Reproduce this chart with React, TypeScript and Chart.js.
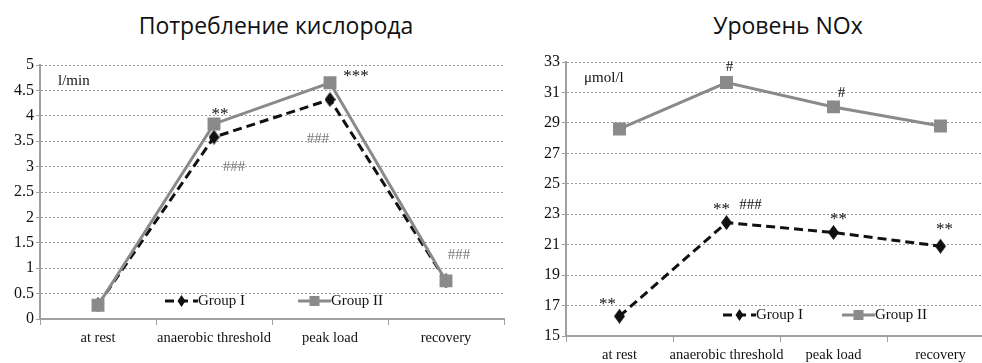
import React, { useEffect, useRef } from "react";
import { Chart, registerables } from "chart.js";

Chart.register(...registerables);

// ---------- data ----------
const categories = ["at rest", "anaerobic threshold", "peak load", "recovery"];

const o2Title = "Потребление кислорода";
const o2Unit = "l/min";
const o2GroupI = [0.28, 3.58, 4.32, 0.75];
const o2GroupII = [0.27, 3.84, 4.65, 0.75];
const o2GroupIMarks = ["", "###", "###", "###"];
const o2GroupIIMarks = ["", "**", "***", ""];

const noTitle = "Уровень NOx";
const noUnit = "μmol/l";
const noGroupI = [16.3, 22.45, 21.8, 20.9];
const noGroupII = [28.6, 31.65, 30.05, 28.8];
const noGroupIStars = ["**", "**", "**", "**"];
const noGroupIHashes = ["", "###", "", ""];
const noGroupIIMarks = ["", "#", "#", ""];

const seriesNames = ["Group I", "Group II"];

// ---------- styles ----------
const BLACK = "#111111";
const GRAY = "#8a8a8a";
const GRID = "#9a9a9a";
const AXIS = "#a0a0a0";
const SERIF = "'Liberation Serif', 'Times New Roman', serif";

function diamond(w: number, h: number, color: string) {
  const c = document.createElement("canvas");
  c.width = w;
  c.height = h;
  const ctx = c.getContext("2d")!;
  ctx.fillStyle = color;
  ctx.beginPath();
  ctx.moveTo(w / 2, 0);
  ctx.lineTo(w, h / 2);
  ctx.lineTo(w / 2, h);
  ctx.lineTo(0, h / 2);
  ctx.closePath();
  ctx.fill();
  return c;
}

type Mark = { ds: number; texts: string[]; offsets: [number, number][]; color: string };

const marksPlugin = {
  id: "marks",
  afterDatasetsDraw(chart: any, _args: any, opts: any) {
    const ctx = chart.ctx;
    const list: Mark[] = opts.list || [];
    ctx.save();
    ctx.textAlign = "center";
    ctx.textBaseline = "middle";
    list.forEach((m) => {
      const meta = chart.getDatasetMeta(m.ds);
      m.texts.forEach((t, i) => {
        if (!t) return;
        const el = meta.data[i];
        const off = m.offsets[i] || [0, 0];
        ctx.font = (t.indexOf("*") >= 0 ? "17px " : "15px ") + SERIF;
        ctx.fillStyle = m.color;
        ctx.fillText(t, el.x + off[0], el.y + off[1]);
      });
    });
    ctx.restore();
  },
};

const unitPlugin = {
  id: "unit",
  afterDraw(chart: any, _args: any, opts: any) {
    const ctx = chart.ctx;
    const a = chart.chartArea;
    ctx.save();
    ctx.font = "15px " + SERIF;
    ctx.fillStyle = BLACK;
    ctx.textBaseline = "middle";
    ctx.textAlign = "left";
    ctx.fillText(opts.text, a.left + opts.dx, a.top + opts.dy);
    ctx.restore();
  },
};

const legendPlugin = {
  id: "insideLegend",
  afterDraw(chart: any, _args: any, opts: any) {
    const ctx = chart.ctx;
    const a = chart.chartArea;
    ctx.save();
    chart.data.datasets.forEach((ds: any, i: number) => {
      const x0 = a.left + opts.xs[i];
      const y = a.bottom - opts.dyFromBottom;
      const len = 33;
      ctx.strokeStyle = ds.borderColor;
      ctx.lineWidth = ds.borderWidth;
      ctx.setLineDash(ds.borderDash || []);
      ctx.beginPath();
      ctx.moveTo(x0, y);
      ctx.lineTo(x0 + len, y);
      ctx.stroke();
      ctx.setLineDash([]);
      ctx.fillStyle = ds.borderColor;
      const cx = x0 + len / 2;
      if (i === 0) {
        const r = 5;
        ctx.beginPath();
        ctx.moveTo(cx, y - r - 1);
        ctx.lineTo(cx + r * 0.8, y);
        ctx.lineTo(cx, y + r + 1);
        ctx.lineTo(cx - r * 0.8, y);
        ctx.closePath();
        ctx.fill();
      } else {
        ctx.fillRect(cx - 5, y - 5, 10, 10);
      }
      ctx.font = "15px " + SERIF;
      ctx.fillStyle = BLACK;
      ctx.textBaseline = "middle";
      ctx.textAlign = "left";
      ctx.fillText(ds.label, x0 + len, y);
    });
    ctx.restore();
  },
};

function datasets(g1: number[], g2: number[]) {
  const dia = diamond(11, 15, BLACK);
  return [
    {
      label: seriesNames[0],
      data: g1,
      borderColor: BLACK,
      backgroundColor: BLACK,
      pointBackgroundColor: BLACK,
      pointBorderColor: BLACK,
      borderWidth: 3,
      borderDash: [9, 5],
      pointStyle: dia,
      pointRadius: 6,
      order: 2,
    },
    {
      label: seriesNames[1],
      data: g2,
      borderColor: GRAY,
      backgroundColor: GRAY,
      pointBackgroundColor: GRAY,
      pointBorderColor: GRAY,
      borderWidth: 3,
      pointStyle: "rect",
      pointRadius: 7,
      order: 1,
    },
  ];
}

function makeConfig(p: {
  g1: number[];
  g2: number[];
  min: number;
  max: number;
  step: number;
  yWidth: number;
  xHeight: number;
  padTop: number;
  padRight: number;
  unit: string;
  legendXs: number[];
  legendDy: number;
  marks: Mark[];
}) {
  return {
    type: "line" as const,
    data: { labels: categories, datasets: datasets(p.g1, p.g2) },
    plugins: [marksPlugin, unitPlugin, legendPlugin],
    options: {
      animation: false,
      responsive: false,
      maintainAspectRatio: false,
      layout: { padding: { top: p.padTop, right: p.padRight, left: 0, bottom: 0 } },
      plugins: {
        legend: { display: false },
        title: { display: false },
        tooltip: { enabled: false },
        marks: { list: p.marks },
        unit: { text: p.unit, dx: 18, dy: 16 },
        insideLegend: { xs: p.legendXs, dyFromBottom: p.legendDy },
      },
      scales: {
        x: {
          type: "category",
          offset: true,
          afterFit: (s: any) => {
            s.height = p.xHeight;
          },
          grid: {
            offset: true,
            drawOnChartArea: false,
            drawTicks: true,
            tickLength: 6,
            color: AXIS,
            lineWidth: 1,
          },
          border: { display: true, color: AXIS, width: 2 },
          ticks: {
            color: BLACK,
            font: { family: SERIF, size: 14.5 },
            padding: 4,
            maxRotation: 0,
            autoSkip: false,
          },
        },
        y: {
          min: p.min,
          max: p.max,
          afterFit: (s: any) => {
            s.width = p.yWidth;
          },
          grid: {
            color: GRID,
            lineWidth: 1,
            tickLength: 4,
            drawTicks: true,
            tickColor: AXIS,
          },
          border: { display: true, color: AXIS, width: 2, dash: [2, 2] },
          ticks: {
            stepSize: p.step,
            color: BLACK,
            font: { family: SERIF, size: 16 },
            padding: 2,
            callback: (v: any) => String(Math.round(Number(v) * 100) / 100),
          },
        },
      },
    },
  };
}

function ChartCanvas({ config, left, width, height }: any) {
  const ref = useRef<HTMLCanvasElement | null>(null);
  useEffect(() => {
    if (!ref.current) return;
    const cfg: any = config();
    const chart = new Chart(ref.current, cfg);
    return () => chart.destroy();
  }, []);
  return (
    <canvas
      ref={ref}
      width={width}
      height={height}
      style={{ position: "absolute", left, top: 0, width, height }}
    />
  );
}

const o2Config = () =>
  makeConfig({
    g1: o2GroupI,
    g2: o2GroupII,
    min: 0,
    max: 5,
    step: 0.5,
    yWidth: 40,
    xHeight: 44,
    padTop: 65,
    padRight: 16,
    unit: o2Unit,
    legendXs: [125, 258],
    legendDy: 18,
    marks: [
      { ds: 1, texts: o2GroupIIMarks, offsets: [[0, 0], [6, -9], [26, -6], [0, 0]], color: BLACK },
      { ds: 0, texts: o2GroupIMarks, offsets: [[0, 0], [20, 30], [-12, 40], [13, -26]], color: "#7a7a7a" },
    ],
  });

const noConfig = () =>
  makeConfig({
    g1: noGroupI,
    g2: noGroupII,
    min: 15,
    max: 33,
    step: 2,
    yWidth: 46,
    xHeight: 27,
    padTop: 62,
    padRight: 16,
    unit: noUnit,
    legendXs: [157, 276],
    legendDy: 21,
    marks: [
      { ds: 1, texts: noGroupIIMarks, offsets: [[0, 0], [3, -15], [8, -14], [0, 0]], color: BLACK },
      { ds: 0, texts: noGroupIStars, offsets: [[-12, -12], [-5, -13], [5, -13], [4, -17]], color: BLACK },
      { ds: 0, texts: noGroupIHashes, offsets: [[0, 0], [24, -18], [0, 0], [0, 0]], color: BLACK },
    ],
  });

const titleStyle: React.CSSProperties = {
  position: "absolute",
  top: 9,
  fontFamily: "'Open Sans', 'Noto Sans', sans-serif",
  fontSize: 23,
  lineHeight: "32px",
  color: "#111",
  whiteSpace: "nowrap",
  transform: "translateX(-50%)",
};

export default function App() {
  return (
    <div
      style={{
        position: "fixed",
        left: 0,
        top: 0,
        width: 982,
        height: 363,
        overflow: "hidden",
        background: "#fff",
      }}
    >
      <div style={{ ...titleStyle, left: 276 }}>{o2Title}</div>
      <div style={{ ...titleStyle, left: 788 }}>{noTitle}</div>
      <ChartCanvas config={o2Config} left={0} width={520} height={363} />
      <ChartCanvas config={noConfig} left={520} width={490} height={363} />
    </div>
  );
}
